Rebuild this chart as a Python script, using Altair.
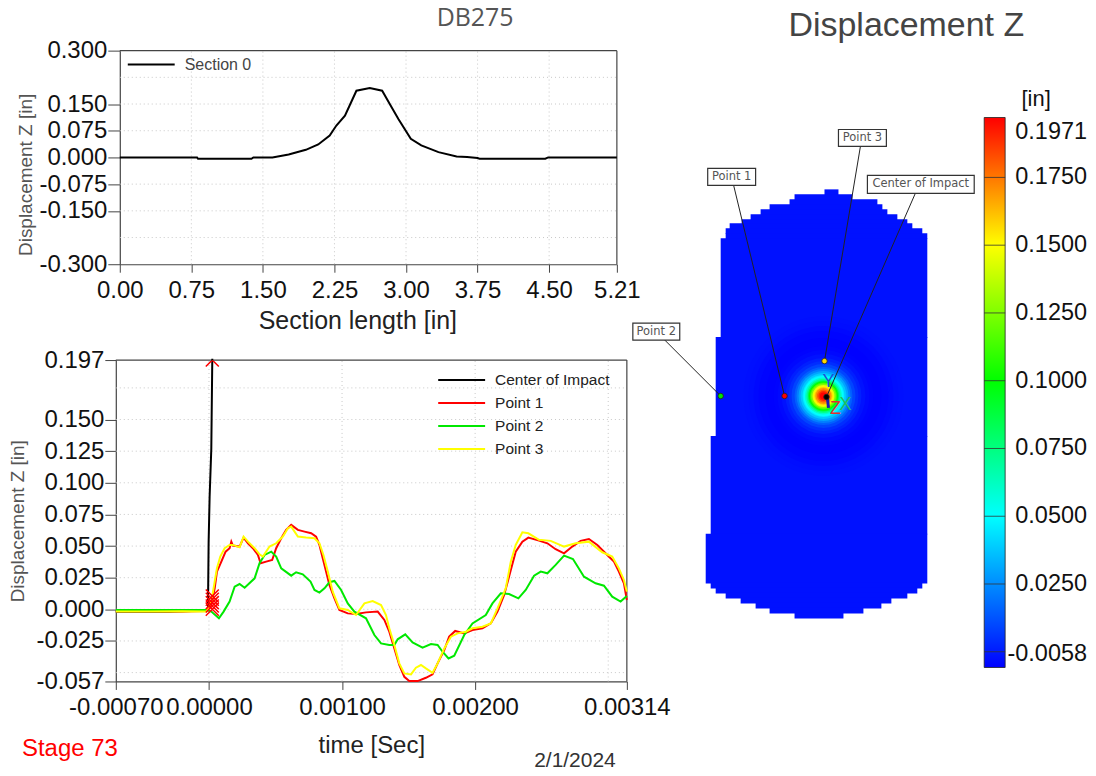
import altair as alt
import pandas as pd

# --- section plot
section_x = [0, 0.81, 0.82, 1.38, 1.40, 1.60, 1.77, 1.95, 2.08, 2.20, 2.27, 2.36, 2.48, 2.62, 2.75, 2.84, 2.92,
             3.05, 3.16, 3.34, 3.53, 3.64, 3.75, 3.77, 4.46, 4.49, 5.21]
section_y = [0, 0, -0.0037, -0.0037, 0, 0, 0.0084, 0.0214, 0.0363, 0.0615, 0.0895, 0.1174, 0.1873, 0.1948, 0.1873,
             0.1454, 0.1081, 0.0522, 0.0336, 0.0149, 0.0028, 0.0009, -0.0019, -0.0037, -0.0037, 0, 0]
sec_x_ticks = [0, 0.75, 1.5, 2.25, 3.0, 3.75, 4.5, 5.21]
sec_y_ticks = [-0.3, -0.15, -0.075, 0, 0.075, 0.15, 0.3]
sec_x_grid = [0.75, 1.5, 2.25, 3.0, 3.75, 4.5]
sec_y_grid = [-0.225, -0.15, -0.075, 0.075, 0.15, 0.225]

# --- time history plot (time in ms)
center_t = [-0.7, -0.3, -0.02, -0.0075, -0.0025, 0.005, 0.0175, 0.025]
center_v = [-0.002, -0.002, -0.001, 0.0, 0.0535, 0.089, 0.1266, 0.198]
point1_t = [-0.7, -0.4, -0.2, -0.02, 0.018, 0.043, 0.06, 0.093, 0.125, 0.155, 0.168, 0.18, 0.23, 0.26, 0.293, 0.33,
            0.368, 0.388, 0.43, 0.475, 0.505, 0.543, 0.58, 0.618, 0.668, 0.718, 0.768, 0.805, 0.83, 0.855, 0.88,
            0.905, 0.943, 0.98, 1.043, 1.105, 1.18, 1.268, 1.318, 1.355, 1.393, 1.43, 1.468, 1.505, 1.568, 1.63,
            1.68, 1.718, 1.768, 1.805, 1.85, 1.918, 1.98, 2.055, 2.118, 2.168, 2.218, 2.268, 2.305, 2.355, 2.4,
            2.48, 2.543, 2.605, 2.668, 2.73, 2.793, 2.855, 2.918, 2.993, 3.043, 3.08, 3.118, 3.14]
point1_v = [-0.0015, -0.0015, -0.0018, -0.0013, 0.0034, 0.0166, 0.0298, 0.0377, 0.0456, 0.0483, 0.0535, 0.0504,
            0.0496, 0.0567, 0.0522, 0.0483, 0.043, 0.0364, 0.0377, 0.039, 0.0483, 0.0562, 0.0628, 0.0667, 0.0628,
            0.0614, 0.0601, 0.0575, 0.0509, 0.0403, 0.0298, 0.0193, 0.0087, -0.0005, -0.0032, -0.0037, -0.0024,
            -0.0018, -0.0084, -0.0177, -0.0309, -0.044, -0.0533, -0.0567, -0.0567, -0.0541, -0.0514, -0.0427,
            -0.0322, -0.0216, -0.0171, -0.019, -0.0163, -0.015, -0.0111, -0.0018, 0.0113, 0.0311, 0.0456, 0.0535,
            0.0567, 0.0543, 0.0522, 0.0475, 0.0443, 0.0496, 0.0541, 0.0556, 0.0509, 0.043, 0.0377, 0.0298, 0.0206,
            0.0074]
point2_t = [-0.7, -0.3, -0.02, 0.018, 0.075, 0.11, 0.155, 0.193, 0.23, 0.268, 0.343, 0.38, 0.418, 0.468, 0.505,
            0.543, 0.618, 0.655, 0.705, 0.763, 0.793, 0.83, 0.868, 0.905, 0.943, 0.993, 1.043, 1.093, 1.18, 1.243,
            1.293, 1.355, 1.393, 1.418, 1.475, 1.53, 1.605, 1.668, 1.718, 1.755, 1.8, 1.843, 1.918, 1.98, 2.08,
            2.13, 2.193, 2.255, 2.325, 2.38, 2.443, 2.493, 2.543, 2.605, 2.668, 2.735, 2.818, 2.905, 2.968, 3.03,
            3.093, 3.14]
point2_v = [-0.0005, -0.0005, -0.0005, -0.0018, -0.0071, -0.0018, 0.0061, 0.0179, 0.02, 0.0171, 0.0245, 0.0364,
            0.043, 0.0456, 0.0417, 0.0324, 0.0266, 0.0293, 0.0277, 0.0219, 0.0153, 0.0132, 0.0166, 0.0214, 0.0224,
            0.0153, 0.0047, -0.0018, -0.0071, -0.0203, -0.0269, -0.0282, -0.0282, -0.0237, -0.0198, -0.0261,
            -0.0303, -0.0274, -0.0282, -0.0335, -0.0388, -0.0367, -0.0203, -0.0111, -0.0045, 0.0047, 0.0127,
            0.0121, 0.0087, 0.0153, 0.0266, 0.0298, 0.0285, 0.0351, 0.0425, 0.0398, 0.0258, 0.0206, 0.0187, 0.01,
            0.0061, 0.0105]
point3_t = [-0.7, -0.45, -0.2, -0.02, 0.018, 0.043, 0.06, 0.085, 0.118, 0.155, 0.18, 0.23, 0.26, 0.293, 0.343, 0.38,
            0.405, 0.455, 0.505, 0.555, 0.593, 0.618, 0.668, 0.73, 0.793, 0.83, 0.86, 0.893, 0.93, 0.98, 1.043,
            1.105, 1.168, 1.23, 1.293, 1.33, 1.355, 1.393, 1.43, 1.468, 1.518, 1.555, 1.593, 1.63, 1.68, 1.718,
            1.768, 1.818, 1.868, 1.93, 1.98, 2.055, 2.118, 2.168, 2.23, 2.268, 2.305, 2.355, 2.4, 2.48, 2.568,
            2.668, 2.755, 2.855, 2.955, 3.03, 3.08, 3.118, 3.14]
point3_v = [-0.0018, -0.0018, -0.0015, -0.0018, 0.0061, 0.0219, 0.0324, 0.0417, 0.0483, 0.0509, 0.0509, 0.049,
            0.0575, 0.0535, 0.0483, 0.0435, 0.0417, 0.0496, 0.0522, 0.0575, 0.0641, 0.0654, 0.0575, 0.0567, 0.0562,
            0.0522, 0.043, 0.0298, 0.014, 0.0008, -0.0005, -0.0045, 0.0047, 0.0066, 0.0034, -0.0045, -0.015,
            -0.0282, -0.0427, -0.0506, -0.0514, -0.0461, -0.044, -0.0467, -0.0501, -0.0427, -0.0309, -0.0216,
            -0.019, -0.0177, -0.015, -0.0137, -0.0111, 0.0008, 0.0166, 0.0377, 0.0509, 0.0609, 0.0601, 0.0549,
            0.0541, 0.0496, 0.0522, 0.0535, 0.0451, 0.0417, 0.0324, 0.0232, 0.014]
series_names = ["Center of Impact", "Point 1", "Point 2", "Point 3"]
series_colors = ["#000000", "#ff0000", "#00e800", "#ffff00"]
marker_t = [0.025, 0.025, 0.025, 0.025, 0.025, 0.025]
marker_v = [0.0, 0.0026, 0.0053, 0.0079, 0.0105, 0.197]
time_x_ticks = [-0.0007, 0.0, 0.001, 0.002, 0.00314]
time_x_grid = [0.0, 0.001, 0.002, 0.003]
time_y_ticks = [-0.057, -0.025, 0.0, 0.025, 0.05, 0.075, 0.1, 0.125, 0.15, 0.197]
time_y_grid = [-0.05, -0.025, 0.0, 0.025, 0.05, 0.075, 0.1, 0.125, 0.15, 0.175]

# --- contour map (mesh coordinates)
row_top = [189, 194, 199, 204, 209, 214, 219, 223, 228, 233, 238, 337, 436, 534, 583, 588, 593, 598, 603, 608, 613]
row_bot = [194, 199, 204, 209, 214, 219, 223, 228, 233, 238, 337, 436, 534, 583, 588, 593, 598, 603, 608, 613, 618]
row_left = [826, 796, 791, 771, 762, 752, 743, 731, 727, 727, 722, 717, 712, 707, 712, 717, 727, 742, 757, 771, 796]
row_right = [840, 854, 879, 884, 889, 899, 909, 914, 924, 929, 929, 929, 929, 929, 924, 919, 909, 893, 883, 865, 845]
body_value = -0.002
ring_radius = [80, 75, 70, 65, 58, 50, 46, 42, 38, 35, 32, 29, 27, 25, 23, 21, 20, 18.5, 17, 15.5, 14.5, 13.5, 12.5,
               11, 10, 9, 8, 6.5, 5, 3.5]
ring_value = [-0.0025, -0.003, -0.004, -0.005, -0.0055, -0.0052, -0.004, -0.002, 0.001, 0.004, 0.009, 0.015, 0.022,
              0.03, 0.038, 0.046, 0.05, 0.06, 0.072, 0.088, 0.1, 0.112, 0.125, 0.145, 0.152, 0.16, 0.17, 0.18, 0.19,
              0.197]
ring_cx = 825
ring_cy = 396
callout_names = ["Point 1", "Point 2", "Point 3", "Center of Impact"]
callout_left = [709, 634, 840, 869]
callout_right = [757, 681, 888, 976]
callout_top = [168, 323, 129, 175]
callout_bot = [185, 340, 146, 193]
leader_x = [735, 666, 862, 917]
leader_y = [185, 340, 146, 193]
target_x = [786, 722, 826, 828]
target_y = [396, 396, 361, 397]
target_color = ["#ff0000", "#00e800", "#ffd800", "#000000"]
triad_text = ["Y", "Z", "X"]
triad_x = [830, 837, 847]
triad_y = [382, 409, 405]
triad_color = ["#1f4fd8", "#e03030", "#20c060"]
axis_bar_x = [829]
axis_bar_x2 = [830]
axis_bar_y = [398]
axis_bar_y2 = [408]

# --- colour bar
ramp_values = [-0.0058, 0.05, 0.1, 0.15, 0.1971]
ramp_colors = ["#0000ff", "#00ffff", "#00ff00", "#ffff00", "#ff0000"]
bar_lines = [0.0, 0.025, 0.05, 0.075, 0.1, 0.125, 0.15, 0.175]
bar_labels = ["0.1971", "0.1750", "0.1500", "0.1250", "0.1000", "0.0750", "0.0500", "0.0250", "-0.0058"]
bar_label_at = [0.1916, 0.175, 0.15, 0.125, 0.1, 0.075, 0.05, 0.025, -0.0007]

FONT = "Liberation Sans"
TICK = 24
FRAME = "#444444"
GRID = "#c8c8c8"
one = pd.DataFrame({"a": [0]})


def grid_v(values, y0, y1, x_scale, y_scale):
    d = pd.DataFrame({"g": values, "y0": y0, "y1": y1})
    return alt.Chart(d).mark_rule(color=GRID, strokeDash=[1, 3], strokeWidth=1).encode(
        x=alt.X("g:Q", scale=x_scale),
        y=alt.Y("y0:Q", scale=y_scale), y2="y1:Q")


def grid_h(values, x0, x1, x_scale, y_scale):
    d = pd.DataFrame({"g": values, "x0": x0, "x1": x1})
    return alt.Chart(d).mark_rule(color=GRID, strokeDash=[1, 3], strokeWidth=1).encode(
        y=alt.Y("g:Q", scale=y_scale),
        x=alt.X("x0:Q", scale=x_scale), x2="x1:Q")


def frame(x0, x1, y0, y1, x_scale, y_scale):
    d = pd.DataFrame({"ax": [x0, x1], "ax2": [x1, x1], "ay": [y1, y0], "ay2": [y1, y1]})
    return alt.Chart(d).mark_rule(color=FRAME, strokeWidth=1.2).encode(
        x=alt.X("ax:Q", scale=x_scale), x2="ax2:Q",
        y=alt.Y("ay:Q", scale=y_scale), y2="ay2:Q")


def hyphen_label(fmt):
    return "replace(format(datum.value,'" + fmt + "'),'\u2212','-')"


# ---------- top chart
sx = alt.Scale(domain=[0, 5.21], range=[4, 502], nice=False, zero=False)
sy = alt.Scale(domain=[-0.3, 0.3], nice=False, zero=False)
sec_df = pd.DataFrame({"x": section_x, "y": section_y, "s": "Section 0"})
sec_line = alt.Chart(sec_df).mark_line(strokeWidth=2, interpolate="linear").encode(
    x=alt.X("x:Q", scale=sx, axis=alt.Axis(
        values=sec_x_ticks, tickCount=30, format=".2f", title="Section length [in]", labelFont=FONT,
        labelFontSize=TICK, labelColor="#111", labelFlush=False, labelBound=False,
        tickSize=8, tickColor=FRAME, domainColor=FRAME, domainWidth=1.2, labelPadding=6,
        titleFont=FONT, titleFontSize=25, titleFontWeight="normal", titleColor="#222", titleX=242, titlePadding=6)),
    y=alt.Y("y:Q", scale=sy, axis=alt.Axis(
        values=sec_y_ticks, tickCount=30, labelExpr=hyphen_label(".3f"), title="Displacement Z [in]", offset=-4,
        labelFont=FONT, labelFontSize=TICK, labelColor="#111", labelBound=False, labelFlush=False, tickSize=12,
        tickColor=FRAME, domainColor=FRAME, domainWidth=1.2, labelPadding=1, titleFont=FONT, titleFontSize=19,
        titleFontWeight="normal", titleColor="#555", titleY=124, titleX=-84)),
    stroke=alt.Stroke("s:N", scale=alt.Scale(domain=["Section 0"], range=["#000000"]), legend=alt.Legend(
        orient="none", legendX=11, legendY=2.5, title=None, symbolType="stroke", symbolSize=2209, symbolStrokeWidth=2,
        clipHeight=23, labelFont=FONT, labelFontSize=16, labelColor="#444", labelOffset=9)),
)
db_text = alt.Chart(one).mark_text(text="DB275", font="Open Sans", fontSize=25, color="#555555", align="center",
                                   baseline="alphabetic").encode(x=alt.value(360), y=alt.value(-25))
top = alt.layer(grid_v(sec_x_grid, -0.3, 0.3, sx, sy), grid_h(sec_y_grid, 0, 5.21, sx, sy),
                frame(0, 5.21, -0.3, 0.3, sx, sy), sec_line, db_text).properties(width=502, height=214)

# ---------- time chart
tx = alt.Scale(domain=[-0.0007, 0.00314], nice=False, zero=False)
ty = alt.Scale(domain=[-0.057, 0.197], nice=False, zero=False)
frames = []
for name, t, v in zip(series_names, [center_t, point1_t, point2_t, point3_t],
                      [center_v, point1_v, point2_v, point3_v]):
    frames.append(pd.DataFrame({"t": [a * 1e-3 for a in t], "v": v, "s": name}))
hist_df = pd.concat(frames, ignore_index=True)
hist_lines = alt.Chart(hist_df).mark_line(strokeWidth=2).encode(
    x=alt.X("t:Q", scale=tx, axis=alt.Axis(
        values=time_x_ticks, tickCount=30, labelExpr=hyphen_label(".5f"), title="time [Sec]", labelFont=FONT,
        labelFontSize=TICK, labelColor="#111", labelFlush=False, labelBound=False, tickSize=8, tickColor=FRAME,
        domainColor=FRAME, domainWidth=1.2, labelPadding=6, titleFont=FONT, titleFontSize=24,
        titleFontWeight="normal", titleColor="#222", titlePadding=14)),
    y=alt.Y("v:Q", scale=ty, axis=alt.Axis(
        values=time_y_ticks, tickCount=30, labelExpr=hyphen_label(".3f"), title="Displacement Z [in]", labelFont=FONT,
        labelFontSize=TICK, labelColor="#111", labelBound=False, labelFlush=False, tickSize=11,
        tickColor=FRAME, domainColor=FRAME, domainWidth=1.2, labelPadding=1, titleFont=FONT, titleFontSize=19,
        titleFontWeight="normal", titleColor="#555", titleX=-88)),
    stroke=alt.Stroke("s:N", sort=None, scale=alt.Scale(domain=series_names, range=series_colors), legend=alt.Legend(
        orient="none", legendX=322, legendY=8.5, title=None, symbolType="stroke", symbolSize=2209,
        symbolStrokeWidth=2, clipHeight=23, labelFont=FONT, labelFontSize=15.5, labelColor="#222", labelOffset=9,
        rowPadding=0)),
)
mark_df = pd.DataFrame({"t": [a * 1e-3 for a in marker_t], "v": marker_v})
hist_marks = alt.Chart(mark_df).mark_point(
    shape="M-1,-1L1,1M1,-1L-1,1", size=170, filled=False, color="#ff0000", strokeWidth=1.5, opacity=1, clip=True
).encode(x=alt.X("t:Q", scale=tx), y=alt.Y("v:Q", scale=ty))
stage = alt.Chart(one).mark_text(text="Stage 73", font=FONT, fontSize=24, color="#ff0000", align="left",
                                 baseline="middle").encode(x=alt.value(-94), y=alt.value(390))
stamp = alt.Chart(one).mark_text(text="2/1/2024", font=FONT, fontSize=21, color="#333333", align="center",
                                 baseline="middle").encode(x=alt.value(460), y=alt.value(402))
bottom = alt.layer(grid_v(time_x_grid, -0.057, 0.197, tx, ty), grid_h(time_y_grid, -0.0007, 0.00314, tx, ty),
                   frame(-0.0007, 0.00314, -0.057, 0.197, tx, ty), hist_lines, hist_marks, stage, stamp
                   ).properties(width=512, height=322)

left = alt.vconcat(top, bottom, spacing=96, bounds="flush").resolve_scale(stroke="independent")

# ---------- map panel
mx = alt.Scale(domain=[632, 982], nice=False, zero=False)
my = alt.Scale(domain=[50, 670], reverse=True, nice=False, zero=False)
cs = alt.Scale(domain=ramp_values, range=ramp_colors, clamp=True, interpolate="rgb")
rows_df = pd.DataFrame({"l": row_left, "r": row_right, "t": row_top, "b": row_bot, "c": body_value})
# neighbouring rows overlap slightly so no hairline shows between them
mesh = alt.Chart(rows_df).transform_calculate(b2="datum.b+0.8").mark_rect().encode(
    x=alt.X("l:Q", scale=mx, axis=None), x2="r:Q", y=alt.Y("t:Q", scale=my, axis=None), y2="b2:Q",
    color=alt.Color("c:Q", scale=cs, legend=None))
rings_df = pd.DataFrame({"r": ring_radius, "c": ring_value, "x": ring_cx, "y": ring_cy})
rings = alt.Chart(rings_df).transform_calculate(sz="4*datum.r*datum.r").mark_circle(opacity=1).encode(
    x=alt.X("x:Q", scale=mx, axis=None), y=alt.Y("y:Q", scale=my, axis=None),
    size=alt.Size("sz:Q", scale=None),
    color=alt.Color("c:Q", scale=cs, legend=None))
lead_df = pd.DataFrame({"x": leader_x, "y": leader_y, "x2": target_x, "y2": target_y})
leaders = alt.Chart(lead_df).mark_rule(color="#222222", strokeWidth=1).encode(
    x=alt.X("x:Q", scale=mx, axis=None), y=alt.Y("y:Q", scale=my, axis=None), x2="x2:Q", y2="y2:Q")
axis_bar = alt.Chart(pd.DataFrame({"x": axis_bar_x, "x2": axis_bar_x2, "y": axis_bar_y, "y2": axis_bar_y2})
                     ).mark_rule(color="#1a1ab0", strokeWidth=3).encode(
    x=alt.X("x:Q", scale=mx, axis=None), y=alt.Y("y:Q", scale=my, axis=None), x2="x2:Q", y2="y2:Q")
dots_df = pd.DataFrame({"x": target_x, "y": target_y, "c": target_color})
dots = alt.Chart(dots_df).mark_point(filled=True, opacity=1, size=30, stroke="#222222", strokeWidth=0.8).encode(
    x=alt.X("x:Q", scale=mx, axis=None), y=alt.Y("y:Q", scale=my, axis=None), fill=alt.Fill("c:N", scale=None))
box_df = pd.DataFrame({"n": callout_names, "l": callout_left, "r": callout_right, "t": callout_top,
                       "b": callout_bot})
boxes = alt.Chart(box_df).mark_rect(fill="white", stroke="#333333", strokeWidth=1.2).encode(
    x=alt.X("l:Q", scale=mx, axis=None), x2="r:Q", y=alt.Y("t:Q", scale=my, axis=None), y2="b:Q")
box_text = alt.Chart(box_df).transform_calculate(cx="(datum.l+datum.r)/2", cy="(datum.t+datum.b)/2").mark_text(
    font="DejaVu Sans", fontSize=11.5, color="#555555", align="center", baseline="middle").encode(
    x=alt.X("cx:Q", scale=mx, axis=None), y=alt.Y("cy:Q", scale=my, axis=None), text="n:N")
tri_df = pd.DataFrame({"n": triad_text, "x": triad_x, "y": triad_y, "c": triad_color})
triad = alt.Chart(tri_df).mark_text(font=FONT, fontSize=18, align="center", baseline="middle").encode(
    x=alt.X("x:Q", scale=mx, axis=None), y=alt.Y("y:Q", scale=my, axis=None), text="n:N",
    fill=alt.Fill("c:N", scale=None))
map_title = alt.Chart(pd.DataFrame({"x": [908], "y": [35]})).mark_text(
    text="Displacement Z", font=FONT, fontSize=34, color="#444444", align="center", baseline="alphabetic").encode(
    x=alt.X("x:Q", scale=mx, axis=None), y=alt.Y("y:Q", scale=my, axis=None))
map_panel = alt.layer(mesh, rings, leaders, axis_bar, dots, boxes, box_text, triad, map_title).properties(
    width=350, height=620)

# ---------- colour bar panel
by = alt.Scale(domain=[-0.0058, 0.1971], range=[618, 67], nice=False, zero=False)
lo, hi = ramp_values[0], ramp_values[-1]
ramp = alt.Gradient(gradient="linear", x1=0, x2=0, y1=1, y2=0,
                    stops=[alt.GradientStop(offset=(v - lo) / (hi - lo), color=c)
                           for v, c in zip(ramp_values, ramp_colors)])
bar = alt.Chart(pd.DataFrame({"lo": [lo], "hi": [hi]})).mark_rect(color=ramp, stroke="#222222", strokeWidth=0.8).encode(
    x=alt.value(0), x2=alt.value(21), y=alt.Y("lo:Q", scale=by, axis=None), y2="hi:Q")
bar_rules = alt.Chart(pd.DataFrame({"v": bar_lines})).mark_rule(color="#333333", strokeWidth=1, opacity=0.8).encode(
    x=alt.value(0), x2=alt.value(21), y=alt.Y("v:Q", scale=by, axis=None))
bar_text = alt.Chart(pd.DataFrame({"v": bar_label_at, "n": bar_labels})).mark_text(
    font=FONT, fontSize=23.5, color="#111111", align="right", baseline="middle").encode(
    x=alt.value(103), y=alt.Y("v:Q", scale=by, axis=None), text="n:N")
bar_unit = alt.Chart(one).mark_text(text="[in]", font=FONT, fontSize=22, color="#111111", align="center",
                                    baseline="middle").encode(x=alt.value(52), y=alt.value(48))
bar_panel = alt.layer(bar, bar_rules, bar_text, bar_unit).properties(width=104, height=620)

right = alt.hconcat(map_panel, bar_panel, spacing=4, bounds="flush")

chart = alt.hconcat(left, right, spacing=516, bounds="flush").properties(
    padding={"left": 1, "top": -3, "right": 0, "bottom": 0}).configure_view(
    stroke=None).configure_axis(grid=False, labelOverlap=False)
chart.save("out.html", embed_options={"renderer": "svg", "actions": False})
